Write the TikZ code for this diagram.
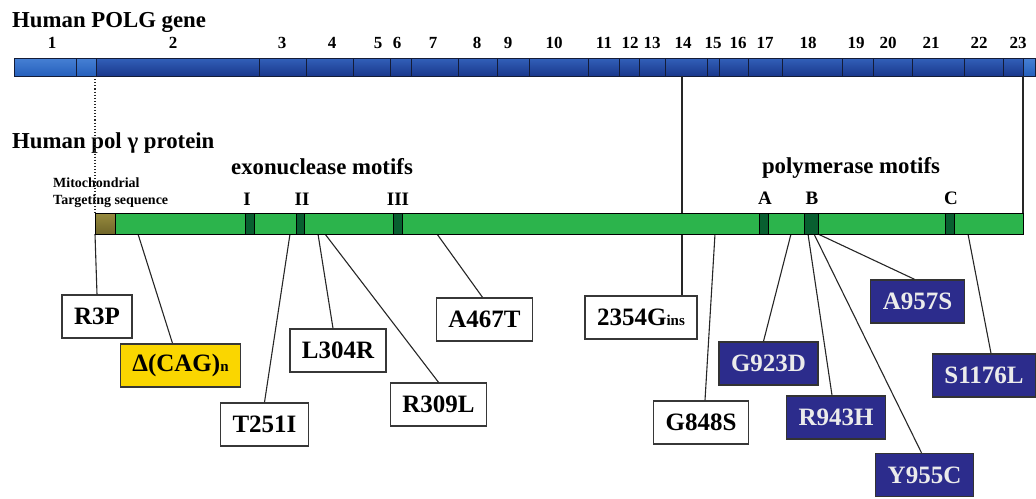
\documentclass[tikz,border=0pt]{standalone}
\usepackage{fontspec}
\setmainfont{Liberation Serif}
\usetikzlibrary{positioning}
\definecolor{figGen}{RGB}{26,56,140}
\definecolor{figGenClaro}{RGB}{50,96,185}
\definecolor{figUtr}{RGB}{38,96,188}
\definecolor{figUtrClaro}{RGB}{70,128,212}
\definecolor{figGenBorde}{RGB}{20,28,55}
\definecolor{figVerde}{RGB}{44,180,76}
\definecolor{figMotivo}{RGB}{8,95,48}
\definecolor{figOliva}{RGB}{150,138,62}
\definecolor{figOlivaOscuro}{RGB}{110,100,40}
\definecolor{figAmarillo}{RGB}{250,214,0}
\definecolor{figAzulOscuro}{RGB}{44,44,140}
\definecolor{figCajaBorde}{RGB}{55,55,55}
\tikzset{
  exon/.style={draw=figGenBorde, line width=0.9pt, top color=figGenClaro, bottom color=figGen},
  utr/.style={draw=figGenBorde, line width=0.9pt, top color=figUtrClaro, bottom color=figUtr},
  numero/.style={anchor=base, inner sep=0pt, font=\fontsize{17}{17}\selectfont\bfseries},
  titulo/.style={anchor=base west, inner sep=0pt, font=\fontsize{22.8}{23}\selectfont\bfseries},
  rotulo/.style={anchor=base, inner sep=0pt, font=\fontsize{22.8}{23}\selectfont\bfseries},
  letra/.style={anchor=base, inner sep=0pt, font=\fontsize{19}{19}\selectfont\bfseries},
  proteina/.style={rectangle, anchor=north west, draw=black, line width=1.1pt,
    fill=figVerde, minimum height=21pt, inner sep=0pt},
  motivo/.style={rectangle, anchor=north west, draw=black, line width=1.2pt,
    fill=figMotivo, minimum height=21pt, inner sep=0pt},
  caja/.style={rectangle, draw=figCajaBorde, line width=1.4pt, fill=white,
    minimum height=43pt, inner xsep=12pt, inner ysep=0pt,
    font=\fontsize{25}{25}\selectfont\bfseries},
  cajaa/.style={caja, fill=figAmarillo},
  cajaz/.style={caja, draw=black!80, fill=figAzulOscuro, text=white!92!black},
  linea/.style={line width=1.1pt, draw=black!85}
}

\begin{document}
\begin{tikzpicture}[x=1pt, y=-1pt]
  \useasboundingbox (0,0) rectangle (1036,498);

  % gene
  \node[titulo] (gen) at (12,27) {Human POLG gene};
  \draw[utr] (14,58) rectangle (76,76);
  \draw[utr] (76,58) rectangle (96,76);
  \foreach \a/\b in {96/259,259/306,306/353,353/390,390/411,411/458,458/497,497/529,
                     529/588,588/619,619/639,639/665,665/707,707/719,719/748,748/782,
                     782/842,842/873,873/912,912/964,964/1003,1003/1023}
    \draw[exon] (\a,58) rectangle (\b,76);
  \draw[utr] (1023,58) rectangle (1035,76);
  \foreach \x/\n in {52/1,173/2,282/3,332/4,378/5,397/6,433/7,477/8,508/9,554/10,
                     604/11,630/12,652/13,683/14,713/15,738/16,765/17,808/18,
                     856/19,888/20,931/21,979/22,1018/23}
    \node[numero] (n\n) at (\x,48) {\n};

  \coordinate (g2) at (95,76);
  \coordinate (g14) at (682,76);
  \coordinate (g23) at (1023,76);

  % protein
  \node[titulo] (prottxt) at (12,148) {Human pol γ protein};
  \node[rotulo] (exotxt) at (322,174) {exonuclease motifs};
  \node[rotulo] (poltxt) at (851,173) {polymerase motifs};
  \node[anchor=north west, inner sep=0pt, align=left,
        font=\fontsize{14}{17}\selectfont\bfseries] (mtstxt) at (53,178)
        {Mitochondrial\\Targeting sequence};

  % mutations
  \node[caja] (r3p) at (97,316.5) {R3P};
  \node[cajaa] (cag) at (180.5,365.5) {Δ(CAG){\fontsize{15}{15}\selectfont n}};
  \node[caja] (t251) at (264.5,424.5) {T251I};
  \node[caja] (l304) at (338,350.5) {L304R};
  \node[caja] (r309) at (438.5,404.5) {R309L};
  \node[caja] (a467) at (484.5,319.5) {A467T};
  \node[caja] (ins) at (641,317.5) {2354G{\fontsize{15}{15}\selectfont ins}};
  \node[caja] (g848) at (701,422.5) {G848S};
  \node[cajaz] (g923) at (768.5,363.5) {G923D};
  \node[cajaz] (r943) at (836,417.5) {R943H};
  \node[cajaz] (a957) at (917.5,301.5) {A957S};
  \node[cajaz] (s1176) at (984,375.5) {S1176L};
  \node[cajaz] (y955) at (924.5,475) {Y955C};

  \coordinate (sR3P) at (95,234);
  \coordinate (sCAG) at (138,234);
  \coordinate (sT251I) at (290,234);
  \coordinate (sL304R) at (318,234);
  \coordinate (sR309L) at (325,234);
  \coordinate (sA467T) at (437,234);
  \coordinate (sG848S) at (715,234);
  \coordinate (sG923D) at (791,234);
  \coordinate (sR943H) at (808,234);
  \coordinate (sY955C) at (814,234);
  \coordinate (sA957S) at (818,234);
  \coordinate (sS1176L) at (968,234);

  \draw[linea, dotted] (g2) -- (95,213);
  \draw[linea] (g14) -- (g14 |- ins.north);
  \draw[linea] (g23) -- (1023,213);
  \draw[linea] (sR3P) -- (r3p.north);
  \draw[linea] (sCAG) -- ([xshift=-8pt]cag.north);
  \draw[linea] (sT251I) -- (t251.north);
  \draw[linea] (sL304R) -- ([xshift=-5pt]l304.north);
  \draw[linea] (sR309L) -- (r309.north);
  \draw[linea] (sA467T) -- ([xshift=-2pt]a467.north);
  \draw[linea] (sG848S) -- ([xshift=4pt]g848.north);
  \draw[linea] (sG923D) -- ([xshift=-5pt]g923.north);
  \draw[linea] (sR943H) -- ([xshift=-4pt]r943.north);
  \draw[linea] (sY955C) -- ([xshift=-3pt]y955.north);
  \draw[linea] (sA957S) -- ([xshift=-3pt]a957.north);
  \draw[linea] (sS1176L) -- ([xshift=7pt]s1176.north);

  \node[proteina, minimum width=928pt] (prot) at (95,213) {};
  \node[proteina, minimum width=20pt, fill=none, top color=figOliva, bottom color=figOlivaOscuro] (mts) at (95,213) {};
  \node[motivo, minimum width=9pt] (mI) at (245,213) {};
  \node[motivo, minimum width=8pt] (mII) at (296,213) {};
  \node[motivo, minimum width=9pt] (mIII) at (393,213) {};
  \node[motivo, minimum width=9pt] (mA) at (759,213) {};
  \node[motivo, minimum width=14pt] (mB) at (804,213) {};
  \node[motivo, minimum width=9pt] (mC) at (945,213) {};

  \node[letra] (lI) at (247,205) {I};
  \node[letra] (lII) at (302,205) {II};
  \node[letra] (lIII) at (398,205) {III};
  \node[letra] (lA) at (765,204) {A};
  \node[letra] (lB) at (812,204) {B};
  \node[letra] (lC) at (951,204) {C};
\end{tikzpicture}
\end{document}
